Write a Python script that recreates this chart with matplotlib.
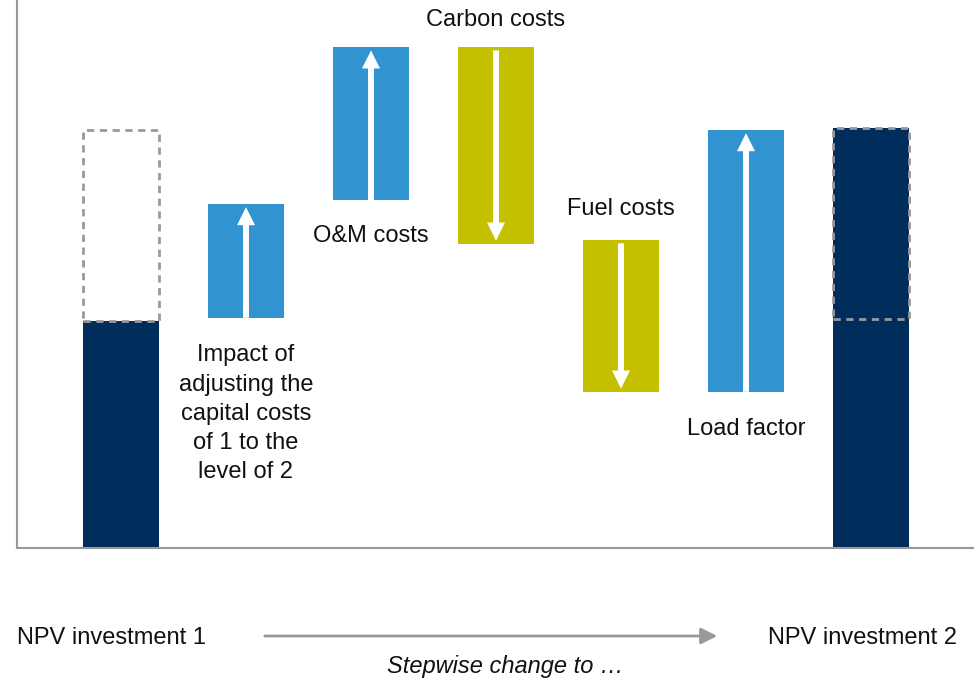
import matplotlib.pyplot as plt
from matplotlib.patches import Rectangle, FancyArrowPatch

plt.rcParams['font.family'] = ['Liberation Sans', 'DejaVu Sans']

# bar positions, bottoms and tops (relative units)
steps = ['NPV investment 1', 'Impact', 'O&M costs', 'Carbon costs', 'Fuel costs', 'Load factor', 'NPV investment 2']
bottoms = [0, 42.0, 63.5, 55.5, 28.5, 28.5, 0]
tops = [41.4, 62.8, 91.4, 91.4, 56.2, 76.3, 76.6]
kinds = ['total', 'up', 'up', 'down', 'down', 'up', 'total']
# dashed reference outlines on the total bars
ghost_x = [0, 6]
ghost_bottom = [41.4, 41.8]
ghost_top = [76.3, 76.6]

labels = ['Impact of\nadjusting the\ncapital costs\nof 1 to the\nlevel of 2',
          'O&M costs', 'Carbon costs', 'Fuel costs', 'Load factor']
label_x = [1, 2, 3, 4, 5]
label_y = [24.5, 57.0, 96.4, 61.9, 21.8]

colors = {'total': '#002D5B', 'up': '#3293D1', 'down': '#C4C000'}
FS = 17

fig = plt.figure(figsize=(9.74, 6.79), dpi=100)
ax = fig.add_axes([17 / 974, 131 / 679, 957 / 974, 548 / 679])

width = 0.608
x = list(range(len(steps)))
ax.bar(x, [t - b for t, b in zip(tops, bottoms)], bottom=bottoms, width=width,
       color=[colors[k] for k in kinds], zorder=2)

for gx, gb, gt in zip(ghost_x, ghost_bottom, ghost_top):
    ax.add_patch(Rectangle((gx - width / 2, gb), width, gt - gb, fill=False,
                           edgecolor='#999999', lw=2.0, ls=(0, (2.6, 2.0)), zorder=3))

pad = 0.6
for xi, b, t, k in zip(x, bottoms, tops, kinds):
    if k == 'total':
        continue
    if k == 'up':
        start, end = b, t - pad
    else:
        start, end = t - pad, b + pad
    ax.annotate('', xy=(xi, end), xytext=(xi, start),
                arrowprops=dict(arrowstyle='simple,head_length=1.0,head_width=1.0,tail_width=0.33',
                                color='white', lw=0, shrinkA=0, shrinkB=0,
                                mutation_scale=13), zorder=4)

for lx, ly, lab in zip(label_x, label_y, labels):
    ax.text(lx, ly, lab, ha='center', va='center', fontsize=FS, linespacing=1.42, color='#111111')

ax.set_xlim(-0.832, 6.824)
ax.set_ylim(0, 100)
ax.set_xticks([])
ax.set_yticks([])
for s in ['top', 'right']:
    ax.spines[s].set_visible(False)
for s in ['left', 'bottom']:
    ax.spines[s].set_color('#999999')
    ax.spines[s].set_linewidth(1.5)

fig.text(17 / 974, 1 - 638 / 679, steps[0], ha='left', va='center', fontsize=FS, color='#111111')
fig.text(957 / 974, 1 - 638 / 679, steps[-1], ha='right', va='center', fontsize=FS, color='#111111')
fig.text(505 / 974, 1 - 667 / 679, 'Stepwise change to …', ha='center', va='center',
         fontsize=FS, style='italic', color='#111111')
fig.patches.append(FancyArrowPatch(
    (262 / 974, 1 - 636 / 679), (720 / 974, 1 - 636 / 679), transform=fig.transFigure,
    arrowstyle='-|>,head_length=0.7,head_width=0.35', mutation_scale=14,
    color='#999999', lw=2))

fig.savefig('out.png', dpi=100)
